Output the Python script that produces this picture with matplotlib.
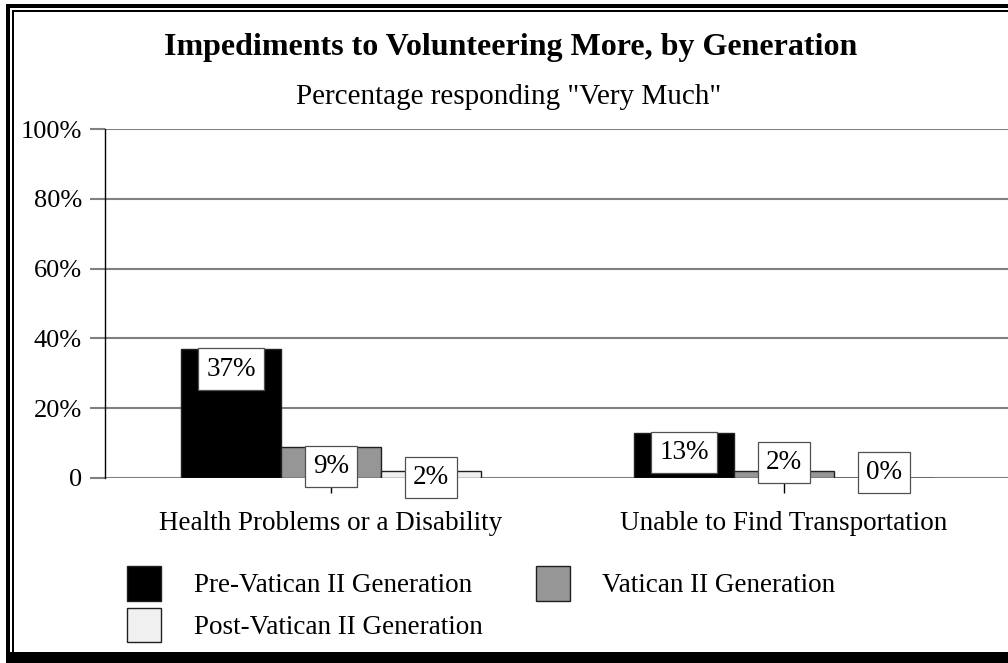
import matplotlib
matplotlib.use("Agg")
import matplotlib.pyplot as plt
from matplotlib.patches import Rectangle
import numpy as np

categories = ["Health Problems or a Disability", "Unable to Find Transportation"]
series_names = ["Pre-Vatican II Generation", "Vatican II Generation", "Post-Vatican II Generation"]
pre_vatican = [37, 13]
vatican = [9, 2]
post_vatican = [2, 0]
y_ticks = [0, 20, 40, 60, 80, 100]
y_tick_labels = ["0", "20%", "40%", "60%", "80%", "100%"]

title = "Impediments to Volunteering More, by Generation"
subtitle = 'Percentage responding "Very Much"'

# styles
colors = ["#000000", "#969696", "#f0f0f0"]
label_lift_px = [[0, 0], [0, 29], [14, 26]]  # extra lift of value boxes (px)

plt.rcParams['font.family'] = ['Liberation Serif', 'DejaVu Serif']

W, H = 1008, 663
fig = plt.figure(figsize=(W / 100, H / 100), dpi=100)

def fx(x):
    return x / W

def fy(y):
    return 1 - y / H

ax_left, ax_right, ax_top, ax_bot = 104.5, 1010.5, 129, 478
ax = fig.add_axes([fx(ax_left), fy(ax_bot), (ax_right - ax_left) / W, (ax_bot - ax_top) / H])

x = np.arange(len(categories))
bw = 0.2208
series = [pre_vatican, vatican, post_vatican]
containers = []
for i, vals in enumerate(series):
    c = ax.bar(x + (i - 1) * bw, vals, width=bw, color=colors[i], edgecolor="#202020",
               linewidth=1.0, label=series_names[i], zorder=3)
    containers.append(c)

fs_lab = 19.5
pad = 0.3
for i, vals in enumerate(series):
    for j, v in enumerate(vals):
        lift_pt = label_lift_px[i][j] * 0.72
        ax.annotate(f"{v}%", xy=(x[j] + (i - 1) * bw, v),
                    xytext=(0, lift_pt - pad * fs_lab + 0.3), textcoords="offset points",
                    ha="center", va="top", fontsize=fs_lab, zorder=5,
                    bbox=dict(boxstyle=f"square,pad={pad}", fc="white", ec="#505050", lw=0.9))

ax.set_xlim(-0.5, 1.5)
ax.set_ylim(0, 100)
ax.set_yticks(y_ticks)
ax.set_yticklabels(y_tick_labels, fontsize=19)
ax.set_xticks(x)
ax.set_xticklabels(categories, fontsize=19.5)
ax.tick_params(axis="y", length=10.8, width=1.5, color="#808080", pad=5.5, direction="out")
ax.tick_params(axis="x", length=10.8, width=1.0, color="#000000", pad=13, direction="out")
ax.yaxis.grid(True, color="#808080", linewidth=1.5, zorder=0)
ax.set_axisbelow(True)
for s in ["top", "right", "bottom"]:
    ax.spines[s].set_visible(False)
ax.spines["left"].set_color("#000000")
ax.spines["left"].set_linewidth(1.0)
ax.spines["left"].set_zorder(4)

# title & subtitle
fig.text(fx(511), fy(47), title, ha="center", va="center", fontsize=23, fontweight="bold")
fig.text(fx(509), fy(97), subtitle, ha="center", va="center", fontsize=21)

# legend
handles = [containers[0], containers[2], containers[1]]
labels = [series_names[0], series_names[2], series_names[1]]
leg = fig.legend(handles, labels, loc="upper left", bbox_to_anchor=(fx(122), fy(561)),
                 ncol=2, frameon=False, fontsize=19.5, handlelength=1.25, handleheight=1.56,
                 handletextpad=1.2, columnspacing=1.98, labelspacing=0.26, borderpad=0.2,
                 borderaxespad=0)

# double frame (cut at right)
def rect(x0, y0, x1, y1):
    fig.add_artist(Rectangle((fx(x0), fy(y1)), (x1 - x0) / W, (y1 - y0) / H,
                             transform=fig.transFigure, facecolor="black", edgecolor="none",
                             zorder=10))

rect(6, 4, W, 8)
rect(12, 10, W, 12)
rect(6, 4, 10, H)
rect(12, 10, 14, H)
rect(6, 652, W, H)

fig.savefig("out.png", dpi=100)
